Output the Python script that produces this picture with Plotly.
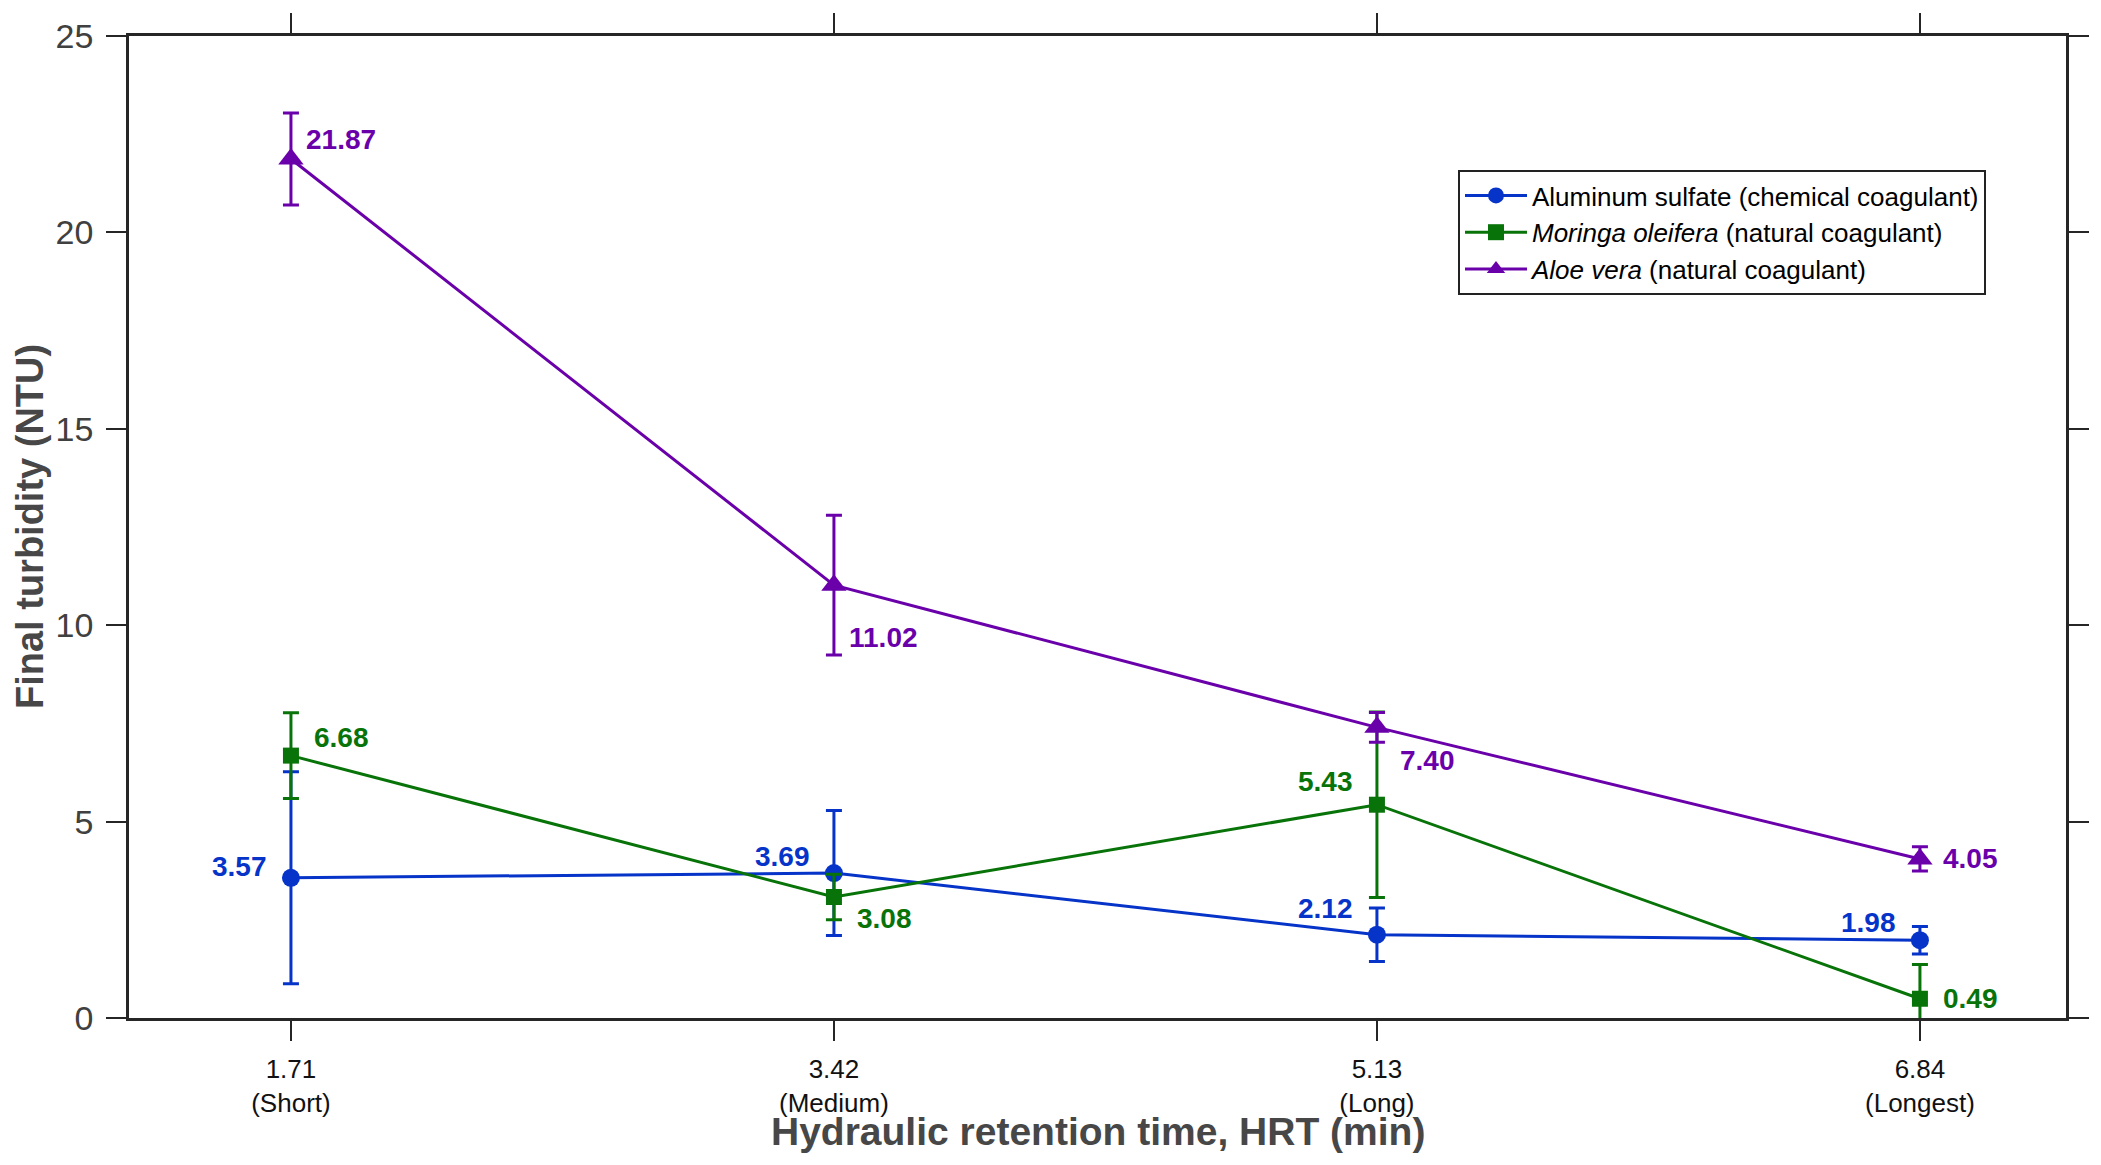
import plotly.graph_objects as go

# HRT values (min) and their labels
hrt = [1.71, 3.42, 5.13, 6.84]
hrt_labels = ["1.71<br>(Short)", "3.42<br>(Medium)", "5.13<br>(Long)", "6.84<br>(Longest)"]

# final turbidity (NTU) and error bars
alum = [3.57, 3.69, 2.12, 1.98]
alum_err = [2.70, 1.59, 0.68, 0.35]
moringa = [6.68, 3.08, 5.43, 0.49]
moringa_err = [1.09, 0.58, 2.36, 0.87]
aloe = [21.87, 11.02, 7.40, 4.05]
aloe_err = [1.17, 1.78, 0.38, 0.31]

# where the value labels sit relative to each point (xshift, yshift, side)
alum_lbl = [(-22, 11, "right"), (-22, 17, "right"), (-22, 26, "right"), (-22, 18, "right")]
moringa_lbl = [(21, 18, "left"), (21, -21, "left"), (-22, 23, "right"), (21, 0, "left")]
aloe_lbl = [(13, 19, "left"), (13, -52, "left"), (21, -33, "left"), (21, 0, "left")]

FONT = "Liberation Sans, Arial, sans-serif"
series = [
    ("Aluminum sulfate (chemical coagulant)", alum, alum_err, "#0633c8", "circle", 18, alum_lbl),
    ("<i>Moringa oleifera</i> (natural coagulant)", moringa, moringa_err, "#087308", "square", 16, moringa_lbl),
    ("<i>Aloe vera</i> (natural coagulant)", aloe, aloe_err, "#6a00aa", "triangle-up", 22, aloe_lbl),
]

fig = go.Figure()
annotations = []
for name, vals, err, color, sym, size, lbl in series:
    fig.add_trace(go.Scatter(
        x=hrt, y=vals, name=name, mode="lines+markers",
        line=dict(color=color, width=3),
        marker=dict(symbol=sym, size=size, color=color),
        error_y=dict(type="data", array=err, visible=True, color=color, thickness=3, width=8),
    ))
    for xv, yv, (dx, dy, side) in zip(hrt, vals, lbl):
        annotations.append(dict(
            x=xv, y=yv, text=f"<b>{yv:.2f}</b>", showarrow=False,
            xanchor=side, yanchor="middle", xshift=dx, yshift=dy,
            font=dict(family=FONT, size=28, color=color),
        ))

PLOT_H = 982.0

# axis titles
annotations.append(dict(
    text="<b>Final turbidity (NTU)</b>", xref="paper", yref="paper",
    x=(30 - 129) / 1937, y=0.5, textangle=-90, showarrow=False,
    xanchor="center", yanchor="middle",
    font=dict(family=FONT, size=38, color="#474747"),
))
annotations.append(dict(
    text="<b>Hydraulic retention time, HRT (min)</b>", xref="paper", yref="paper",
    x=0.5, y=-(1132 - 1019) / PLOT_H, showarrow=False,
    xanchor="center", yanchor="middle",
    font=dict(family=FONT, size=39, color="#474747"),
))

axis_common = dict(
    showline=True, linecolor="#262626", linewidth=2.5, mirror="ticks",
    ticks="outside", ticklen=20, tickwidth=2, tickcolor="#262626",
    showgrid=False, zeroline=False, automargin=False,
)

# the page body adds 8px around the plot, so the figure is 16px smaller
fig.update_layout(
    width=2093, height=1157,
    margin=dict(l=121, r=35, t=28, b=147),
    plot_bgcolor="white", paper_bgcolor="white",
    font=dict(family=FONT),
    showlegend=True,
    legend=dict(
        x=(1986 - 129) / 1937, y=(1019 - 171) / PLOT_H, xanchor="right", yanchor="top",
        bordercolor="#222222", borderwidth=2, bgcolor="white",
        font=dict(family=FONT, size=26, color="black"),
        itemwidth=62, tracegroupgap=0,
    ),
    xaxis=dict(
        range=[1.2, 7.3], tickvals=hrt, ticktext=hrt_labels,
        tickfont=dict(family=FONT, size=26, color="#111111"),
        ticklabelstandoff=6,
        **axis_common,
    ),
    yaxis=dict(
        range=[0, 25], tickvals=[0, 5, 10, 15, 20, 25],
        tickfont=dict(family=FONT, size=34, color="#404040"),
        ticklabelstandoff=6,
        **axis_common,
    ),
    annotations=annotations,
)

fig.write_html("out.html")
